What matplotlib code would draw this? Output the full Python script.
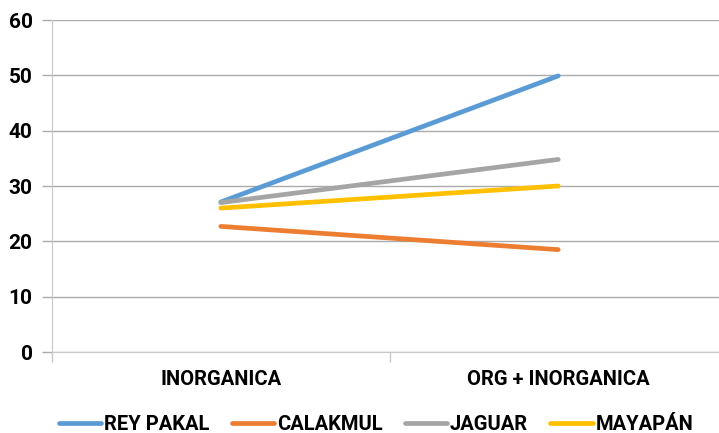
import matplotlib
matplotlib.use("Agg")
import matplotlib.pyplot as plt

categories = ["INORGANICA", "ORG + INORGANICA"]
rey_pakal = [27.1, 49.9]
calakmul = [22.7, 18.5]
jaguar = [27.0, 34.8]
mayapan = [26.0, 30.0]
yticks = [0, 10, 20, 30, 40, 50, 60]

series = [
    ("REY PAKAL", rey_pakal, "#5B9BD5"),
    ("CALAKMUL", calakmul, "#ED7D31"),
    ("JAGUAR", jaguar, "#A5A5A5"),
    ("MAYAPÁN", mayapan, "#FFC000"),
]

plt.rcParams["font.family"] = ["Roboto", "DejaVu Sans"]
plt.rcParams["font.weight"] = "bold"

W, H = 719, 433
fig = plt.figure(figsize=(W / 100, H / 100), dpi=100)
ax = fig.add_axes([52 / W, (H - 352) / H, 675 / W, 332 / H])

x = list(range(len(categories)))
for name, vals, col in series:
    ax.plot(x, vals, color=col, lw=3.4, solid_capstyle="round", label=name)

ax.set_xlim(-0.5, len(categories) - 0.5)
ax.set_ylim(0, 60)
ax.set_yticks(yticks)
ax.set_yticklabels([str(v) for v in yticks], fontsize=15, fontweight="bold")
ax.yaxis.grid(True, color="#ABABAB", lw=1)
ax.set_axisbelow(True)

ax.set_xticks(x)
ax.set_xticklabels(categories, fontsize=14.5, fontweight="bold")
ax.tick_params(axis="x", length=0, pad=13)
ax.tick_params(axis="y", length=7, color="#ABABAB", width=1, pad=7)
# category boundary ticks
ax.set_xticks([-0.5, 0.5, 1.5], minor=True)
ax.tick_params(axis="x", which="minor", length=7, color="#C8C8C8", width=1)

for s in ["top", "right"]:
    ax.spines[s].set_visible(False)
ax.spines["left"].set_color("#C8C8C8")
ax.spines["bottom"].set_color("#C8C8C8")

leg = fig.legend(loc="center", bbox_to_anchor=(376 / W, 8 / H), ncol=4,
                 frameon=False, fontsize=14.5, handlelength=2.1, handletextpad=0.15,
                 columnspacing=1.1, borderaxespad=0)

fig.savefig("out.png", dpi=100)
